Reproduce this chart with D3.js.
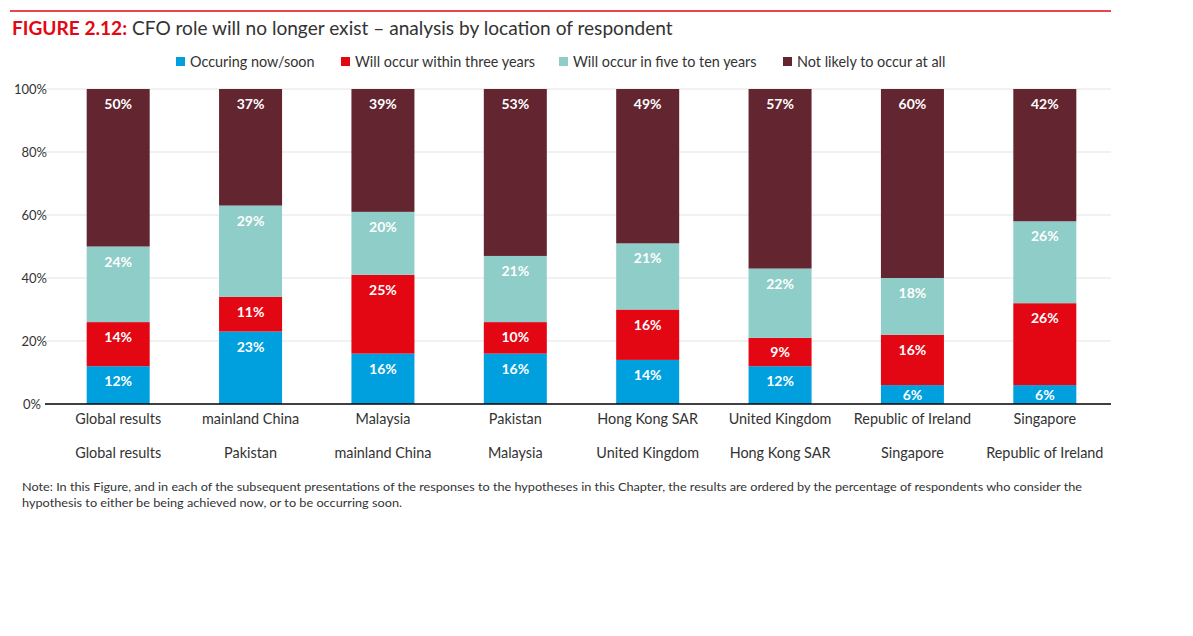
<!DOCTYPE html>
<html><head><meta charset="utf-8">
<script src="https://cdn.jsdelivr.net/npm/d3@7"></script>
<style>body{margin:0;background:#fff;}svg{display:block;font-family:Lato,"Open Sans",sans-serif;}</style>
</head><body><svg id="c" width="1193" height="636"></svg>
<script>
const categories = ["Global results","mainland China","Malaysia","Pakistan","Hong Kong SAR","United Kingdom","Republic of Ireland","Singapore"];
const secondRowLabels = ["Global results","Pakistan","mainland China","Malaysia","United Kingdom","Hong Kong SAR","Singapore","Republic of Ireland"];
const seriesNames = ["Occuring now/soon","Will occur within three years","Will occur in five to ten years","Not likely to occur at all"];
const nowSoon   = [12,23,16,16,14,12,6,6];
const threeYrs  = [14,11,25,10,16,9,16,26];
const fiveTen   = [24,29,20,21,21,22,18,26];
const notLikely = [50,37,39,53,49,57,60,42];
const yTicks = [0,20,40,60,80,100];
const colors = ["#00A0DF","#E30613","#8ECDC8","#632630"];

const svg = d3.select("#c");
const keys = ["a","b","c","d"];
const rows = categories.map((c,i)=>({cat:c,a:nowSoon[i],b:threeYrs[i],c:fiveTen[i],d:notLikely[i]}));
const stack = d3.stack().keys(keys)(rows);

const x = d3.scaleBand().domain(categories).range([52,1111]).paddingInner(0.524).paddingOuter(0.262);
const y = d3.scaleLinear().domain([0,100]).range([404,89]);

// top red rule
svg.append("line").attr("x1",10).attr("x2",1111).attr("y1",11).attr("y2",11).attr("stroke","#E30613").attr("stroke-width",1.5);
// title
const t = svg.append("text").attr("x",12).attr("y",35).attr("font-size",19.1).attr("fill","#333");
t.append("tspan").attr("fill","#E30613").attr("font-weight","bold").text("FIGURE 2.12:");
t.append("tspan").text(" CFO role will no longer exist – analysis by location of respondent");

// legend
const legX = [176,341,559,783];
seriesNames.forEach((n,i)=>{
  svg.append("rect").attr("x",legX[i]).attr("y",57).attr("width",9).attr("height",9).attr("fill",colors[i]);
  svg.append("text").attr("x",legX[i]+14).attr("y",67).attr("font-size",14.4).attr("fill","#333").text(n);
});

// grid
const g = svg.append("g");
g.selectAll("line.grid").data(yTicks.filter(d=>d>0)).join("line")
  .attr("x1",45).attr("x2",1111).attr("y1",d=>y(d)).attr("y2",d=>y(d))
  .attr("stroke","#e3e3e3").attr("stroke-width",1);

// y axis labels
const yAxis = svg.append("g").attr("transform","translate(47,0)")
  .call(d3.axisLeft(y).tickValues(yTicks).tickFormat(d=>d+"%").tickSize(0).tickPadding(0));
yAxis.select(".domain").remove();
yAxis.selectAll("text").attr("font-size",13).attr("fill","#333").attr("font-family","Lato,sans-serif")
  .attr("dx",d=>d===0?-6:0);

// bars
stack.forEach((s,si)=>{
  svg.append("g").selectAll("rect").data(s).join("rect")
    .attr("x",d=>x(d.data.cat)).attr("width",x.bandwidth())
    .attr("y",d=>y(d[1])).attr("height",d=>y(d[0])-y(d[1]))
    .attr("fill",colors[si]);
  svg.append("g").selectAll("text").data(s).join("text")
    .attr("x",d=>x(d.data.cat)+x.bandwidth()/2)
    .attr("y",d=>{const h=y(d[0])-y(d[1]); return y(d[1])+Math.min(15,h/2)+5;})
    .attr("text-anchor","middle").attr("font-size",14).attr("font-weight","bold").attr("fill","#fff")
    .text(d=>(d[1]-d[0])+"%");
});

// x axis
const xAxis = svg.append("g").attr("transform","translate(0,404)")
  .call(d3.axisBottom(x).tickSize(0).tickPadding(10));
xAxis.select(".domain").attr("d","M45,0H1111").attr("stroke","#000").attr("stroke-width",1.5);
xAxis.selectAll("text").attr("font-size",14.4).attr("fill","#333").attr("font-family","Lato,sans-serif");

// second row labels
svg.append("g").selectAll("text").data(secondRowLabels).join("text")
  .attr("x",(d,i)=>x(categories[i])+x.bandwidth()/2).attr("y",458)
  .attr("text-anchor","middle").attr("font-size",14.4).attr("fill","#333").text(d=>d);

// note
svg.append("text").attr("x",22).attr("y",491).attr("font-size",11).attr("fill","#333")
  .attr("textLength",1060).attr("lengthAdjust","spacingAndGlyphs")
  .text("Note: In this Figure, and in each of the subsequent presentations of the responses to the hypotheses in this Chapter, the results are ordered by the percentage of respondents who consider the");
svg.append("text").attr("x",22).attr("y",507).attr("font-size",11).attr("fill","#333")
  .attr("textLength",380).attr("lengthAdjust","spacingAndGlyphs")
  .text("hypothesis to either be being achieved now, or to be occurring soon.");
</script></body></html>
